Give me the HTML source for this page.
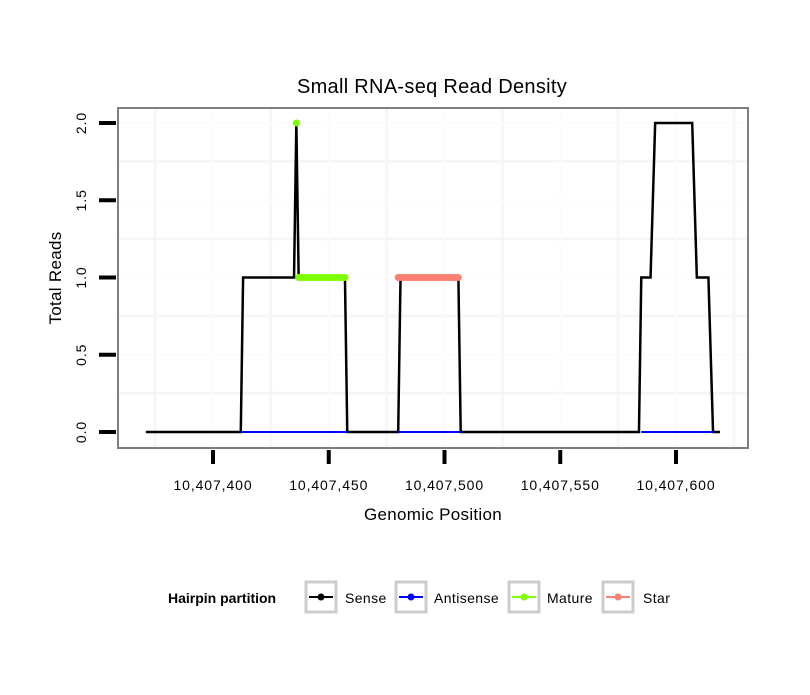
<!DOCTYPE html>
<html><head><meta charset="utf-8"><style>
body{margin:0;background:#fff;font-family:"Liberation Sans",sans-serif}
</style></head><body>
<svg width="810" height="690" xmlns="http://www.w3.org/2000/svg" font-family="Liberation Sans, sans-serif">
<text x="432" y="93" text-anchor="middle" font-size="20" letter-spacing="0.3">Small RNA-seq Read Density</text>
<g id="grid"></g>
<g id="series"></g>
<rect x="118" y="108" width="630" height="340" fill="none" stroke="#7f7f7f" stroke-width="2"/>
<g id="axes"></g>
<text x="433" y="520" text-anchor="middle" font-size="17" letter-spacing="0.3">Genomic Position</text>
<text transform="translate(61,278) rotate(-90)" text-anchor="middle" font-size="17" letter-spacing="0.3">Total Reads</text>
<g font-size="14" letter-spacing="0.4">
<text x="168" y="603" font-weight="bold" letter-spacing="0">Hairpin partition</text>
<g><rect x="306" y="582" width="30" height="30" fill="#fff" stroke="#ccc" stroke-width="3"/><line x1="309" y1="597" x2="333" y2="597" stroke="#000" stroke-width="2"/><circle cx="321" cy="597" r="3.5" fill="#000"/><text x="345" y="603">Sense</text></g>
<g><line x1="399" y1="597" x2="423" y2="597" stroke="#00f" stroke-width="2"/><circle cx="411" cy="597" r="3.5" fill="#00f"/><rect x="396" y="582" width="30" height="30" fill="none" stroke="#ccc" stroke-width="3"/><text x="434" y="603">Antisense</text></g>
<g><rect x="509" y="582" width="30" height="30" fill="#fff" stroke="#ccc" stroke-width="3"/><line x1="512" y1="597" x2="536" y2="597" stroke="#7fff00" stroke-width="2"/><circle cx="524" cy="597" r="3.5" fill="#7fff00"/><text x="547" y="603">Mature</text></g>
<g><rect x="603" y="582" width="30" height="30" fill="#fff" stroke="#ccc" stroke-width="3"/><line x1="606" y1="597" x2="630" y2="597" stroke="#fa8072" stroke-width="2"/><circle cx="618" cy="597" r="3.5" fill="#fa8072"/><text x="643" y="603">Star</text></g>
</g>
</svg>
<script>
const senseX=[371,412,413,435,436,437,457,458,480,481,506,507,584,585,589,591,607,609,614,616,619];
const senseY=[0,0,1,1,2,1,1,0,0,1,1,0,0,1,1,2,2,1,1,0,0];
const antisenseRanges=[[412,458],[480,507],[585,616]];
const matureX=[436,437,438,439,440,441,442,443,444,445,446,447,448,449,450,451,452,453,454,455,456,457];
const matureY=[2,1,1,1,1,1,1,1,1,1,1,1,1,1,1,1,1,1,1,1,1,1];
const starX=[480,481,482,483,484,485,486,487,488,489,490,491,492,493,494,495,496,497,498,499,500,501,502,503,504,505,506];
const starY=[1,1,1,1,1,1,1,1,1,1,1,1,1,1,1,1,1,1,1,1,1,1,1,1,1,1,1];
const xTicks=[400,450,500,550,600];
const xTickLabels=["10,407,400","10,407,450","10,407,500","10,407,550","10,407,600"];
const yTicks=[0,0.5,1,1.5,2];
const yTickLabels=["0.0","0.5","1.0","1.5","2.0"];
const NS="http://www.w3.org/2000/svg";
const X=v=>213+(v-400)*2.315;
const Y=v=>432-v*154.5;
function mk(tag,attrs,parent){const e=document.createElementNS(NS,tag);for(const k in attrs)e.setAttribute(k,attrs[k]);parent.appendChild(e);return e;}
const grid=document.getElementById('grid'),series=document.getElementById('series'),axes=document.getElementById('axes');
mk('rect',{x:118,y:108,width:630,height:340,fill:'#fff'},grid);
for(let v=375;v<=625;v+=50){const l=mk('line',{x1:X(v),x2:X(v),y1:108,y2:448,stroke:'#f6f6f6','stroke-width':3},grid);}
for(let v=0.25;v<=1.75;v+=0.5){const l=mk('line',{x1:118,x2:748,y1:Y(v),y2:Y(v),stroke:'#f6f6f6','stroke-width':3},grid);}
xTicks.forEach(v=>{const l=mk('line',{x1:X(v),x2:X(v),y1:108,y2:448,stroke:'#fcfcfc','stroke-width':2},grid);});
yTicks.forEach(v=>{const l=mk('line',{x1:118,x2:748,y1:Y(v),y2:Y(v),stroke:'#fcfcfc','stroke-width':2},grid);});
const sp=mk('polyline',{points:senseX.map((v,i)=>X(v)+','+Y(senseY[i])).join(' '),fill:'none',stroke:'#000','stroke-width':2.5},series);


antisenseRanges.forEach(r=>{const l=mk('line',{x1:X(r[0]),x2:X(r[1]),y1:Y(0),y2:Y(0),stroke:'#00f','stroke-width':2},series);});
function pts(xs,ys,col,name){
  for(let i=1;i<xs.length;i++){if(ys[i]===ys[i-1]){const l=mk('line',{x1:X(xs[i-1]),x2:X(xs[i]),y1:Y(ys[i]),y2:Y(ys[i]),stroke:col,'stroke-width':3},series);}}
  xs.forEach((v,i)=>{const c=mk('circle',{cx:X(v),cy:Y(ys[i]),r:3.5,fill:col},series);});
}
pts(matureX,matureY,'#7fff00','mature');
pts(starX,starY,'#fa8072','star');
xTicks.forEach((v,i)=>{
  const l=mk('line',{x1:X(v),x2:X(v),y1:450,y2:464,stroke:'#000','stroke-width':4},axes);
  const t=mk('text',{x:X(v),y:490,'text-anchor':'middle','font-size':14,'letter-spacing':0.9},axes);t.textContent=xTickLabels[i];
});
yTicks.forEach((v,i)=>{
  const l=mk('line',{x1:99,x2:116,y1:Y(v),y2:Y(v),stroke:'#000','stroke-width':4},axes);
  const t=mk('text',{transform:`translate(86,${Y(v)}) rotate(-90)`,'text-anchor':'middle','font-size':14,'letter-spacing':0.9},axes);t.textContent=yTickLabels[i];
});
</script>
</body></html>
